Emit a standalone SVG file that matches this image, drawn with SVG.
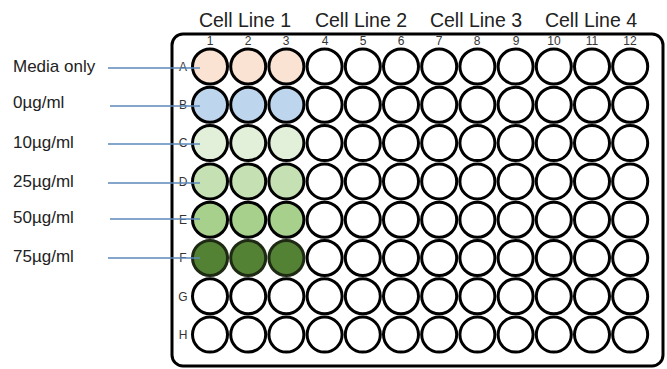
<svg xmlns="http://www.w3.org/2000/svg" width="667" height="369" viewBox="0 0 667 369">
<style>
.w{fill:#fff;stroke:#000;stroke-width:3}
.hdr{font-family:"Liberation Sans",Arial,sans-serif;font-size:19.5px;fill:#222;text-anchor:middle}
.lab{font-family:"Liberation Sans",Arial,sans-serif;font-size:17px;fill:#222}
.num{font-family:"Liberation Sans",Arial,sans-serif;font-size:12px;fill:#333;text-anchor:middle}
.row{font-family:"Liberation Sans",Arial,sans-serif;font-size:12px;fill:#333;text-anchor:middle}
.ln{stroke:#5a88b8;stroke-width:1.5;fill:none}
</style>
<rect width="667" height="369" fill="#fff"/>
<g id="plate">
<rect x="172" y="34" width="491" height="332" rx="11" fill="#fff" stroke="#000" stroke-width="3"/>
</g>
<g id="headers">
<text class="hdr" x="245" y="27">Cell Line 1</text>
<text class="hdr" x="361" y="27">Cell Line 2</text>
<text class="hdr" x="476" y="27">Cell Line 3</text>
<text class="hdr" x="591" y="27">Cell Line 4</text>
</g>
<g id="colnums">
<text class="num" x="210" y="45">1</text>
<text class="num" x="248" y="45">2</text>
<text class="num" x="286" y="45">3</text>
<text class="num" x="325" y="45">4</text>
<text class="num" x="363" y="45">5</text>
<text class="num" x="401" y="45">6</text>
<text class="num" x="439" y="45">7</text>
<text class="num" x="477" y="45">8</text>
<text class="num" x="516" y="45">9</text>
<text class="num" x="554" y="45">10</text>
<text class="num" x="592" y="45">11</text>
<text class="num" x="630" y="45">12</text>
</g>
<g id="rowletters">
<text class="row" x="183" y="71">A</text>
<text class="row" x="183" y="109">B</text>
<text class="row" x="183" y="147">C</text>
<text class="row" x="183" y="186">D</text>
<text class="row" x="183" y="224">E</text>
<text class="row" x="183" y="262">F</text>
<text class="row" x="183" y="301">G</text>
<text class="row" x="183" y="339">H</text>
</g>
<g id="labels">
<text class="lab" x="13" y="72">Media only</text>
<text class="lab" x="13" y="108">0µg/ml</text>
<text class="lab" x="13" y="148">10µg/ml</text>
<text class="lab" x="13" y="187">25µg/ml</text>
<text class="lab" x="13" y="223">50µg/ml</text>
<text class="lab" x="13" y="262">75µg/ml</text>
</g>
<g id="wells">
<!-- row A -->
<circle class="w" cx="210" cy="66.5" r="17.5" style="fill:#fbe3d4"/>
<circle class="w" cx="248.2" cy="66.5" r="17.5" style="fill:#fbe3d4"/>
<circle class="w" cx="286.4" cy="66.5" r="17.5" style="fill:#fbe3d4"/>
<circle class="w" cx="324.6" cy="66.5" r="17.5"/>
<circle class="w" cx="362.8" cy="66.5" r="17.5"/>
<circle class="w" cx="401" cy="66.5" r="17.5"/>
<circle class="w" cx="439.2" cy="66.5" r="17.5"/>
<circle class="w" cx="477.4" cy="66.5" r="17.5"/>
<circle class="w" cx="515.6" cy="66.5" r="17.5"/>
<circle class="w" cx="553.8" cy="66.5" r="17.5"/>
<circle class="w" cx="592" cy="66.5" r="17.5"/>
<circle class="w" cx="630.2" cy="66.5" r="17.5"/>
<!-- row B -->
<circle class="w" cx="210" cy="104.8" r="17.5" style="fill:#bdd6ee"/>
<circle class="w" cx="248.2" cy="104.8" r="17.5" style="fill:#bdd6ee"/>
<circle class="w" cx="286.4" cy="104.8" r="17.5" style="fill:#bdd6ee"/>
<circle class="w" cx="324.6" cy="104.8" r="17.5"/>
<circle class="w" cx="362.8" cy="104.8" r="17.5"/>
<circle class="w" cx="401" cy="104.8" r="17.5"/>
<circle class="w" cx="439.2" cy="104.8" r="17.5"/>
<circle class="w" cx="477.4" cy="104.8" r="17.5"/>
<circle class="w" cx="515.6" cy="104.8" r="17.5"/>
<circle class="w" cx="553.8" cy="104.8" r="17.5"/>
<circle class="w" cx="592" cy="104.8" r="17.5"/>
<circle class="w" cx="630.2" cy="104.8" r="17.5"/>
<!-- row C -->
<circle class="w" cx="210" cy="143.1" r="17.5" style="fill:#e2efd9"/>
<circle class="w" cx="248.2" cy="143.1" r="17.5" style="fill:#e2efd9"/>
<circle class="w" cx="286.4" cy="143.1" r="17.5" style="fill:#e2efd9"/>
<circle class="w" cx="324.6" cy="143.1" r="17.5"/>
<circle class="w" cx="362.8" cy="143.1" r="17.5"/>
<circle class="w" cx="401" cy="143.1" r="17.5"/>
<circle class="w" cx="439.2" cy="143.1" r="17.5"/>
<circle class="w" cx="477.4" cy="143.1" r="17.5"/>
<circle class="w" cx="515.6" cy="143.1" r="17.5"/>
<circle class="w" cx="553.8" cy="143.1" r="17.5"/>
<circle class="w" cx="592" cy="143.1" r="17.5"/>
<circle class="w" cx="630.2" cy="143.1" r="17.5"/>
<!-- row D -->
<circle class="w" cx="210" cy="181.4" r="17.5" style="fill:#c5e0b3"/>
<circle class="w" cx="248.2" cy="181.4" r="17.5" style="fill:#c5e0b3"/>
<circle class="w" cx="286.4" cy="181.4" r="17.5" style="fill:#c5e0b3"/>
<circle class="w" cx="324.6" cy="181.4" r="17.5"/>
<circle class="w" cx="362.8" cy="181.4" r="17.5"/>
<circle class="w" cx="401" cy="181.4" r="17.5"/>
<circle class="w" cx="439.2" cy="181.4" r="17.5"/>
<circle class="w" cx="477.4" cy="181.4" r="17.5"/>
<circle class="w" cx="515.6" cy="181.4" r="17.5"/>
<circle class="w" cx="553.8" cy="181.4" r="17.5"/>
<circle class="w" cx="592" cy="181.4" r="17.5"/>
<circle class="w" cx="630.2" cy="181.4" r="17.5"/>
<!-- row E -->
<circle class="w" cx="210" cy="219.7" r="17.5" style="fill:#a8d08d"/>
<circle class="w" cx="248.2" cy="219.7" r="17.5" style="fill:#a8d08d"/>
<circle class="w" cx="286.4" cy="219.7" r="17.5" style="fill:#a8d08d"/>
<circle class="w" cx="324.6" cy="219.7" r="17.5"/>
<circle class="w" cx="362.8" cy="219.7" r="17.5"/>
<circle class="w" cx="401" cy="219.7" r="17.5"/>
<circle class="w" cx="439.2" cy="219.7" r="17.5"/>
<circle class="w" cx="477.4" cy="219.7" r="17.5"/>
<circle class="w" cx="515.6" cy="219.7" r="17.5"/>
<circle class="w" cx="553.8" cy="219.7" r="17.5"/>
<circle class="w" cx="592" cy="219.7" r="17.5"/>
<circle class="w" cx="630.2" cy="219.7" r="17.5"/>
<!-- row F -->
<circle class="w" cx="210" cy="258" r="17.5" style="fill:#548235;stroke:#1e2a14"/>
<circle class="w" cx="248.2" cy="258" r="17.5" style="fill:#548235;stroke:#1e2a14"/>
<circle class="w" cx="286.4" cy="258" r="17.5" style="fill:#548235;stroke:#1e2a14"/>
<circle class="w" cx="324.6" cy="258" r="17.5"/>
<circle class="w" cx="362.8" cy="258" r="17.5"/>
<circle class="w" cx="401" cy="258" r="17.5"/>
<circle class="w" cx="439.2" cy="258" r="17.5"/>
<circle class="w" cx="477.4" cy="258" r="17.5"/>
<circle class="w" cx="515.6" cy="258" r="17.5"/>
<circle class="w" cx="553.8" cy="258" r="17.5"/>
<circle class="w" cx="592" cy="258" r="17.5"/>
<circle class="w" cx="630.2" cy="258" r="17.5"/>
<!-- row G -->
<circle class="w" cx="210" cy="296.3" r="17.5"/>
<circle class="w" cx="248.2" cy="296.3" r="17.5"/>
<circle class="w" cx="286.4" cy="296.3" r="17.5"/>
<circle class="w" cx="324.6" cy="296.3" r="17.5"/>
<circle class="w" cx="362.8" cy="296.3" r="17.5"/>
<circle class="w" cx="401" cy="296.3" r="17.5"/>
<circle class="w" cx="439.2" cy="296.3" r="17.5"/>
<circle class="w" cx="477.4" cy="296.3" r="17.5"/>
<circle class="w" cx="515.6" cy="296.3" r="17.5"/>
<circle class="w" cx="553.8" cy="296.3" r="17.5"/>
<circle class="w" cx="592" cy="296.3" r="17.5"/>
<circle class="w" cx="630.2" cy="296.3" r="17.5"/>
<!-- row H -->
<circle class="w" cx="210" cy="334.6" r="17.5"/>
<circle class="w" cx="248.2" cy="334.6" r="17.5"/>
<circle class="w" cx="286.4" cy="334.6" r="17.5"/>
<circle class="w" cx="324.6" cy="334.6" r="17.5"/>
<circle class="w" cx="362.8" cy="334.6" r="17.5"/>
<circle class="w" cx="401" cy="334.6" r="17.5"/>
<circle class="w" cx="439.2" cy="334.6" r="17.5"/>
<circle class="w" cx="477.4" cy="334.6" r="17.5"/>
<circle class="w" cx="515.6" cy="334.6" r="17.5"/>
<circle class="w" cx="553.8" cy="334.6" r="17.5"/>
<circle class="w" cx="592" cy="334.6" r="17.5"/>
<circle class="w" cx="630.2" cy="334.6" r="17.5"/>
</g>
<g id="connectors">
<line class="ln" x1="108" y1="68" x2="200" y2="68"/>
<line class="ln" x1="110" y1="106" x2="200" y2="106"/>
<line class="ln" x1="108" y1="144" x2="200" y2="144"/>
<line class="ln" x1="108" y1="183" x2="200" y2="183"/>
<line class="ln" x1="110" y1="219" x2="200" y2="219"/>
<line class="ln" x1="108" y1="258" x2="200" y2="258"/>
</g>
</svg>
